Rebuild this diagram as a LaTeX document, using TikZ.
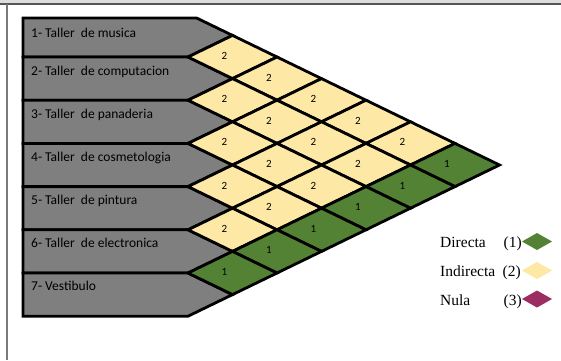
\documentclass[tikz,border=0pt]{standalone}
\usepackage{fontspec}
\setmainfont{Liberation Serif}
\newfontfamily\calib{Carlito}
\definecolor{rowgray}{HTML}{7F7F7F}
\definecolor{relyel}{HTML}{FDE8A6}
\definecolor{relgreen}{HTML}{548235}
\definecolor{relpurple}{HTML}{9B2D63}
\definecolor{framedark}{HTML}{555555}
\definecolor{framelight}{HTML}{DDDDDD}
\definecolor{frameside}{HTML}{7A7A7A}
\begin{document}
\begin{tikzpicture}[x=1pt,y=-1pt,
  rowbox/.style={fill=rowgray,draw=black,line width=2.8pt},
  cellbox/.style={draw=black,line width=2.8pt},
  rowlabel/.style={anchor=base west,inner sep=0pt,font=\calib\fontsize{13.5}{15}\selectfont},
  cellnum/.style={inner sep=0pt,font=\calib\fontsize{11}{12}\selectfont},
  legtext/.style={anchor=base west,inner sep=0pt,font=\fontsize{15.5}{18}\selectfont},
  legnum/.style={anchor=base east,inner sep=0pt,font=\fontsize{15.5}{18}\selectfont}]
\useasboundingbox (0,0) rectangle (561,360);
\fill[white] (0,0) rectangle (561,360);
\fill[framelight] (0,0) rectangle (561,3.3);
\draw[framedark,line width=1.6pt] (0,4) -- (561,4);
\draw[frameside,line width=2pt] (6.5,4) -- (6.5,360);
% rows
\foreach \i in {1,...,7}{
  \pgfmathsetmacro\m{35.4+43.2*(\i-1)}
  \pgfmathsetmacro\b{\m+21.6}
  \pgfmathsetmacro\t{\i==1 ? 18 : \m-21.6}
  \pgfmathsetmacro\cx{\i==1 ? 196.6 : 188}
  \draw[rowbox] (23,\t) -- (\cx,\t) -- (232.5,\m) -- (188,\b) -- (23,\b) -- cycle;
}
% cells
\foreach \i in {1,...,6}{
  \pgfmathtruncatemacro\ip{\i+1}
  \foreach \j in {\ip,...,7}{
    \pgfmathsetmacro\cx{188+44.5*(\j-\i)}
    \pgfmathsetmacro\cy{35.4+43.2*(\i+\j-2)/2}
    \ifnum\j=7 \def\cc{relgreen}\def\nn{1}\else\def\cc{relyel}\def\nn{2}\fi
    \draw[cellbox,fill=\cc] (\cx-44.5,\cy) -- (\cx,\cy-21.6) -- (\cx+44.5,\cy) -- (\cx,\cy+21.6) -- cycle;
    \node[cellnum] (c\i\j) at (\cx-8,\cy-1) {\nn};
  }
}
% row labels
\node[rowlabel] (r1) at (31,37) {1- Taller~ de musica};
\node[rowlabel] (r2) at (31,75) {2- Taller~ de computacion};
\node[rowlabel] (r3) at (31,118.2) {3- Taller~ de panaderia};
\node[rowlabel] (r4) at (31,161.4) {4- Taller~ de cosmetologia};
\node[rowlabel] (r5) at (31,204.6) {5- Taller~ de pintura};
\node[rowlabel] (r6) at (31,247.8) {6- Taller~ de electronica};
\node[rowlabel] (r7) at (31,290) {7- Vestibulo};
% legend
\node[legtext] (l1) at (440,247) {Directa};
\node[legnum] (p1) at (522,247) {(1)};
\fill[relgreen] (522,241.5) -- (537,233) -- (552,241.5) -- (537,250) -- cycle;
\node[legtext] (l2) at (440,276) {Indirecta};
\node[legnum] (p2) at (521,276) {(2)};
\fill[relyel] (522,270.5) -- (537,262) -- (552,270.5) -- (537,279) -- cycle;
\node[legtext] (l3) at (440,305) {Nula};
\node[legnum] (p3) at (522,305) {(3)};
\fill[relpurple] (522,299) -- (537,290.5) -- (552,299) -- (537,307.5) -- cycle;
\end{tikzpicture}
\end{document}
